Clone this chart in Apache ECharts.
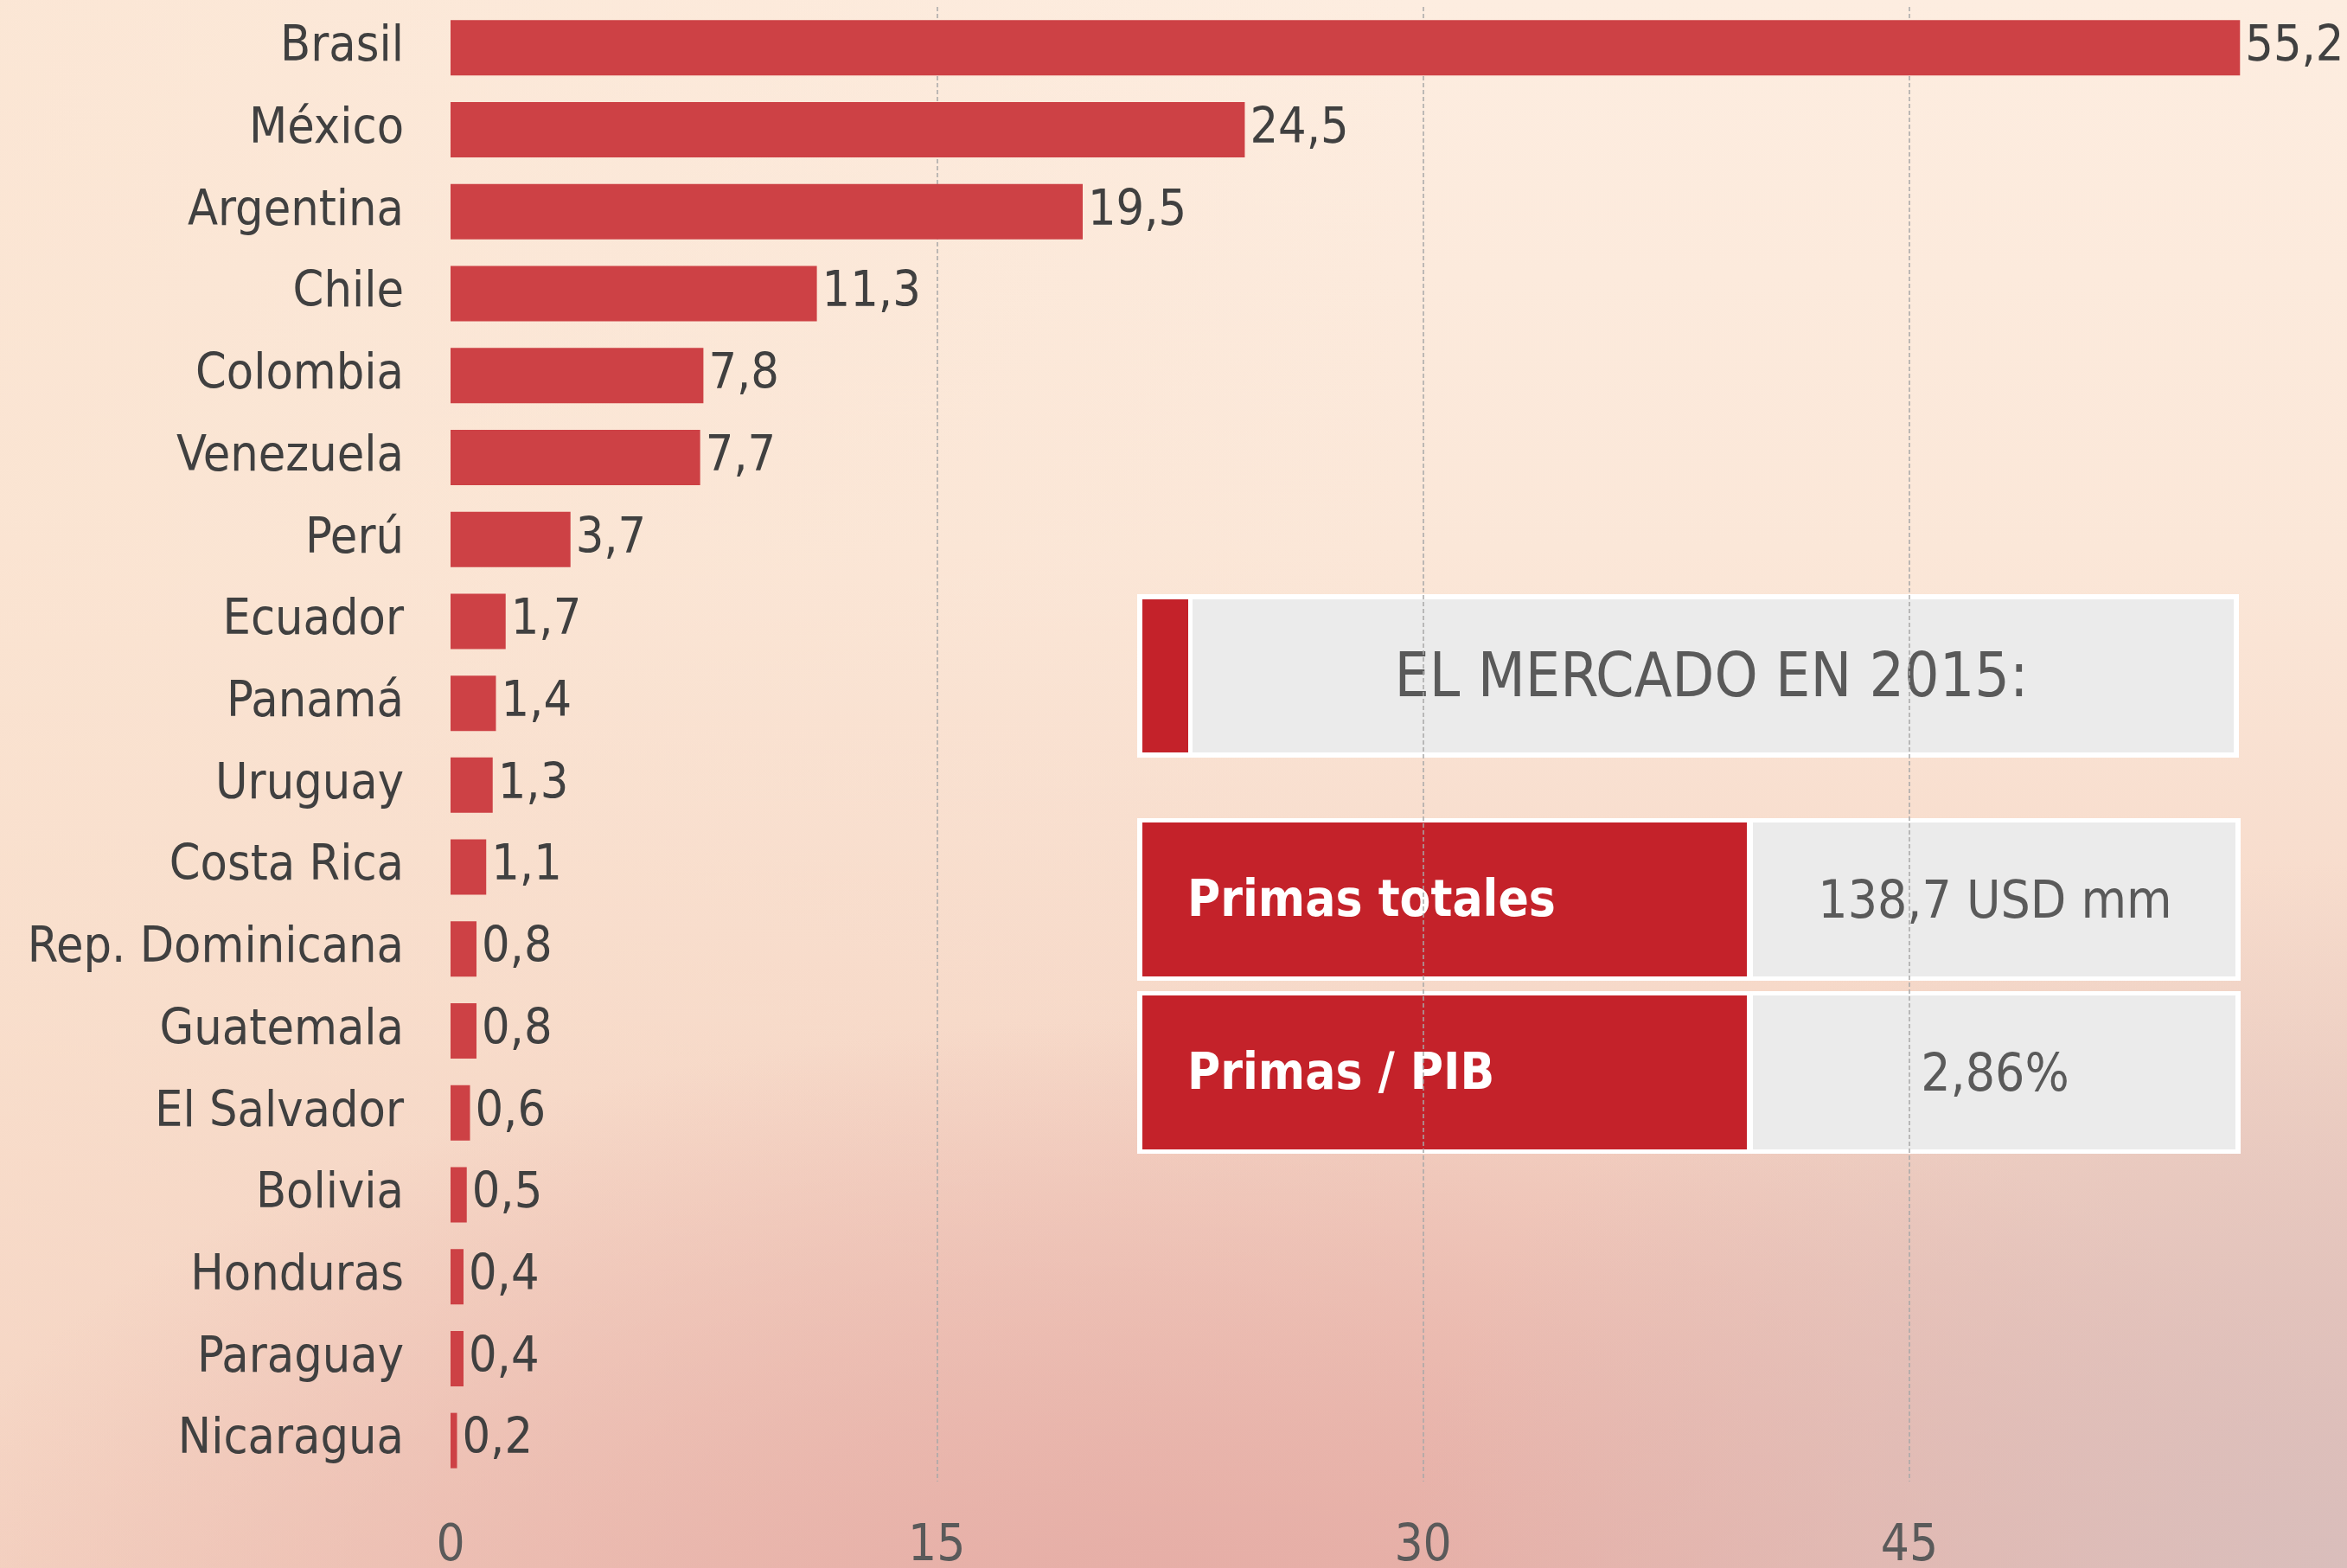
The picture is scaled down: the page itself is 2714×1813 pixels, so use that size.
<!DOCTYPE html>
<html>
<head>
<meta charset="utf-8">
<script src="https://cdn.jsdelivr.net/npm/echarts@6/dist/echarts.min.js"></script>
<style>
  html, body { margin: 0; padding: 0; }
  #chart {
    width: 2714px;
    height: 1813px;
    background:
      radial-gradient(ellipse 40% 45% at 100% 100%, rgba(216,190,188,0.95) 0%, rgba(216,190,188,0) 100%),
      radial-gradient(ellipse 55% 40% at 50% 105%, rgba(229,172,165,1) 0%, rgba(229,172,165,0) 100%),
      linear-gradient(to right, rgba(250,226,206,0.6) 0%, rgba(253,238,226,0) 60%),
      linear-gradient(to bottom, #fdede0 0%, #fbe7d8 35%, #f6d8c8 65%, #ecbcb0 100%);
  }
</style>
</head>
<body>
<div id="chart"></div>
<script>
// datos
var countries = ["Brasil", "México", "Argentina", "Chile", "Colombia", "Venezuela", "Perú", "Ecuador", "Panamá", "Uruguay", "Costa Rica", "Rep. Dominicana", "Guatemala", "El Salvador", "Bolivia", "Honduras", "Paraguay", "Nicaragua"];
var primas = [55.2, 24.5, 19.5, 11.3, 7.8, 7.7, 3.7, 1.7, 1.4, 1.3, 1.1, 0.8, 0.8, 0.6, 0.5, 0.4, 0.4, 0.2];
var xTicks = [0, 15, 30, 45];

var boxTitle = "EL MERCADO EN 2015:";
var boxLabels = ["Primas totales", "Primas / PIB"];
var boxValues = ["138,7 USD mm", "2,86%"];

var FONT = "'DejaVu Sans Condensed', 'DejaVu Sans', sans-serif";
var RED = "#c4222a";
var GRAY = "#ebebeb";

var chart = echarts.init(document.getElementById("chart"));

function comma(v) {
  return v.toFixed(1).replace(".", ",");
}

// cuadro de la derecha
var graphics = [
  { type: "rect", shape: { x: 1315, y: 687, width: 1274, height: 189 }, style: { fill: "#fff" } },
  { type: "rect", shape: { x: 1321, y: 693, width: 53, height: 177 }, style: { fill: RED } },
  { type: "rect", shape: { x: 1379, y: 693, width: 1204, height: 177 }, style: { fill: GRAY } },
  {
    type: "text", x: 1979, y: 787,
    style: { text: boxTitle, fill: "#5a5a5a", font: "71px " + FONT, textAlign: "center", textVerticalAlign: "middle" }
  }
];
var rowTops = [946, 1146];
rowTops.forEach(function (top, i) {
  graphics.push(
    { type: "rect", shape: { x: 1315, y: top, width: 1276, height: 188 }, style: { fill: "#fff" } },
    { type: "rect", shape: { x: 1321, y: top + 5, width: 699, height: 178 }, style: { fill: RED } },
    { type: "rect", shape: { x: 2027, y: top + 5, width: 558, height: 178 }, style: { fill: GRAY } },
    {
      type: "text", x: 1373, y: top + 98,
      style: { text: boxLabels[i], fill: "#fff", font: "bold 58px " + FONT, textAlign: "left", textVerticalAlign: "middle" }
    },
    {
      type: "text", x: 2307, y: top + 99,
      style: { text: boxValues[i], fill: "#5a5a5a", font: "60px " + FONT, textAlign: "center", textVerticalAlign: "middle" }
    }
  );
});

var option = {
  backgroundColor: "transparent",
  animation: false,
  grid: { left: 521, right: 0, top: 8, bottom: 100, outerBoundsMode: "none", containLabel: false },
  xAxis: {
    type: "value",
    min: 0,
    max: 58.5,
    interval: 15,
    axisLine: { show: false },
    axisTick: { show: false },
    axisLabel: {
      margin: 47,
      color: "#5a5a5a",
      fontFamily: FONT,
      fontSize: 58,
      formatter: function (v) {
        return xTicks.indexOf(v) >= 0 ? String(v) : "";
      }
    },
    splitLine: {
      showMinLine: false,
      showMaxLine: false,
      lineStyle: { color: "#a8a8a8", width: 1.5, type: [5, 3] }
    }
  },
  yAxis: {
    type: "category",
    inverse: true,
    data: countries,
    axisLine: { show: false },
    axisTick: { show: false },
    axisLabel: {
      margin: 54,
      color: "#404040",
      fontFamily: FONT,
      fontSize: 57,
      padding: [12, 0, 0, 0]
    }
  },
  series: [
    {
      type: "bar",
      data: primas,
      barWidth: 64,
      itemStyle: { color: "#cd4145" },
      label: {
        show: true,
        position: "right",
        distance: 6,
        color: "#404040",
        fontFamily: FONT,
        fontSize: 57,
        padding: [12, 0, 0, 0],
        formatter: function (p) {
          return comma(p.value);
        }
      }
    }
  ],
  graphic: graphics
};
chart.setOption(option);
</script>
</body>
</html>
